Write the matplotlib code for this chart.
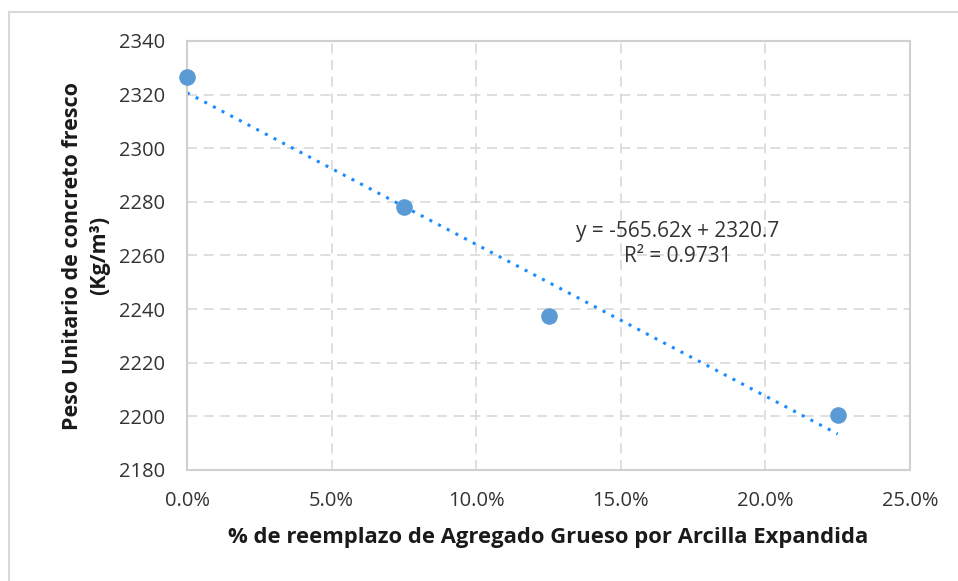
import matplotlib
matplotlib.use("Agg")
import matplotlib.pyplot as plt
from matplotlib.patches import Rectangle
from matplotlib.ticker import FuncFormatter
import numpy as np

x_vals = [0.0, 0.075, 0.125, 0.225]
y_vals = [2326.5, 2278.0, 2237.5, 2200.5]
slope = -565.62
intercept = 2320.7
r2 = 0.9731
x_ticks = [0.0, 0.05, 0.10, 0.15, 0.20, 0.25]
y_ticks = [2180, 2200, 2220, 2240, 2260, 2280, 2300, 2320, 2340]

plt.rcParams['font.family'] = ['Open Sans', 'DejaVu Sans']

fig = plt.figure(figsize=(9.58, 5.81), dpi=100)
fig.patches.append(Rectangle((9/958, -0.1), 1.2, 1 - 12/581 + 0.1, transform=fig.transFigure,
                             fill=False, edgecolor='#d9d9d9', linewidth=1.5, zorder=0))
ax = fig.add_axes([187/958, 1 - 470/581, (910 - 187)/958, (470 - 41)/581])

ax.set_xlim(0, 0.25)
ax.set_ylim(2180, 2340)
ax.set_xticks(x_ticks)
ax.set_yticks(y_ticks)
ax.xaxis.set_major_formatter(FuncFormatter(lambda v, p: f"{v*100:.1f}%"))
ax.grid(True, color='#d9d9d9', linestyle=(0, (6, 4)), linewidth=1.2)
ax.set_axisbelow(True)
for s in ax.spines.values():
    s.set_color('#d0d0d0')
    s.set_linewidth(1.5)
ax.tick_params(length=0, labelsize=14.5, colors='#333333')
ax.tick_params(axis='y', pad=16)
ax.tick_params(axis='x', pad=15)

xt = np.array([0.0, 0.225])
ax.plot(xt, slope * xt + intercept, linestyle=(0, (1, 2.2)), color='#1a8cff',
        linewidth=2.2, zorder=2, clip_on=False)
ax.scatter(x_vals, y_vals, s=120, color='#5b9bd5', zorder=3, clip_on=False)

ax.text(0.1697, 2268.8, f"y = {slope}x + {intercept}", ha='center', va='center',
        fontsize=15, color='#333333')
ax.text(0.1697, 2259.6, f"R² = {r2}", ha='center', va='center', fontsize=15, color='#333333')

ax.set_xlabel("% de reemplazo de Agregado Grueso por Arcilla Expandida", fontsize=15.8,
              fontweight='bold', color='#1a1a1a', labelpad=12)
ax.set_ylabel("Peso Unitario de concreto fresco\n(Kg/m³)", fontsize=15.5,
              fontweight='bold', color='#1a1a1a', labelpad=6, linespacing=1.4)

fig.savefig("out.png", dpi=100)
